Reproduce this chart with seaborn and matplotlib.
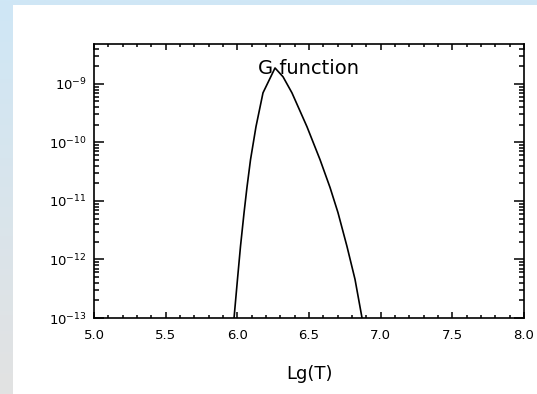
import numpy as np
import pandas as pd
import matplotlib
matplotlib.use("Agg")
import matplotlib.pyplot as plt
import matplotlib.ticker as mticker
from matplotlib.patches import Rectangle
import seaborn as sns

# Data
lg_t = [5.977, 6.001, 6.022, 6.047, 6.067, 6.092, 6.130, 6.179, 6.263,
        6.319, 6.381, 6.486, 6.577, 6.647, 6.702, 6.765, 6.821, 6.870]
g_val = [1.0e-13, 4.58e-13, 1.67e-12, 6.34e-12, 1.69e-11, 5.07e-11, 1.85e-10,
         7.03e-10, 1.87e-9, 1.32e-9, 7.03e-10, 1.85e-10, 5.07e-11, 1.69e-11,
         6.34e-12, 1.67e-12, 4.58e-13, 1.0e-13]
x_ticks = [5.0, 5.5, 6.0, 6.5, 7.0, 7.5, 8.0]
x_tick_labels = ["5.0", "5.5", "6.0", "6.5", "7.0", "7.5", "8.0"]
y_ticks = [1e-13, 1e-12, 1e-11, 1e-10, 1e-9]
y_tick_labels = [r"$10^{-13}$", r"$10^{-12}$", r"$10^{-11}$", r"$10^{-10}$", r"$10^{-9}$"]
title_text = "G function"
x_label = "Lg(T)"

df = pd.DataFrame({"lgT": lg_t, "G": g_val})

sns.set_theme(style="ticks")
plt.rcParams["font.family"] = ["DejaVu Sans"]

W, H = 537, 394
fig = plt.figure(figsize=(W / 100, H / 100), dpi=100)

# background gradient strip + white panel
bg = fig.add_axes([0, 0, 1, 1], zorder=-10)
grad = np.linspace(0, 1, 256).reshape(-1, 1)
c_top = np.array([207, 231, 246]) / 255.0
c_bot = np.array([226, 226, 226]) / 255.0
img = c_top[None, None, :] * (1 - grad[:, :, None]) + c_bot[None, None, :] * grad[:, :, None]
bg.imshow(img, aspect="auto", extent=[0, 1, 0, 1], origin="upper")
bg.add_patch(Rectangle((13 / W, 0), 1 - 13 / W, 1 - 5 / H, facecolor="white",
                       edgecolor="none", transform=bg.transAxes))
bg.set_xlim(0, 1)
bg.set_ylim(0, 1)
bg.axis("off")

ax = fig.add_axes([94 / W, (H - 318) / H, (524 - 94) / W, (318 - 44) / H])
ax.set_facecolor("white")
sns.lineplot(data=df, x="lgT", y="G", ax=ax, color="black", linewidth=1.2,
             estimator=None, sort=False)
ax.set_yscale("log")
ax.set_xlim(5.0, 8.0)
ax.set_ylim(1e-13, 4.8e-9)

ax.set_xticks(x_ticks)
ax.set_xticklabels(x_tick_labels)
ax.xaxis.set_minor_locator(mticker.MultipleLocator(0.1))
ax.yaxis.set_major_locator(mticker.FixedLocator(y_ticks))
ax.set_yticklabels(y_tick_labels)
ax.yaxis.set_minor_locator(mticker.LogLocator(base=10, subs=np.arange(2, 10), numticks=20))
ax.yaxis.set_minor_formatter(mticker.NullFormatter())

for s in ax.spines.values():
    s.set_visible(True)
    s.set_linewidth(1.2)
    s.set_color("black")

ax.tick_params(axis="both", which="both", direction="in", top=True, right=True,
               colors="black", width=1.1)
ax.tick_params(axis="x", which="major", length=4.5, pad=8, labelsize=9.5)
ax.tick_params(axis="x", which="minor", length=2.5)
ax.tick_params(axis="y", which="major", length=7, pad=5, labelsize=9.5)
ax.tick_params(axis="y", which="minor", length=3.6)

ax.set_xlabel(x_label, fontsize=13, color="black")
ax.xaxis.set_label_coords(0.5, -0.17)
ax.set_ylabel("")
ax.text(0.5, 0.912, title_text, transform=ax.transAxes, ha="center", va="center",
        fontsize=14, color="black")

fig.savefig("out.png", dpi=100)
